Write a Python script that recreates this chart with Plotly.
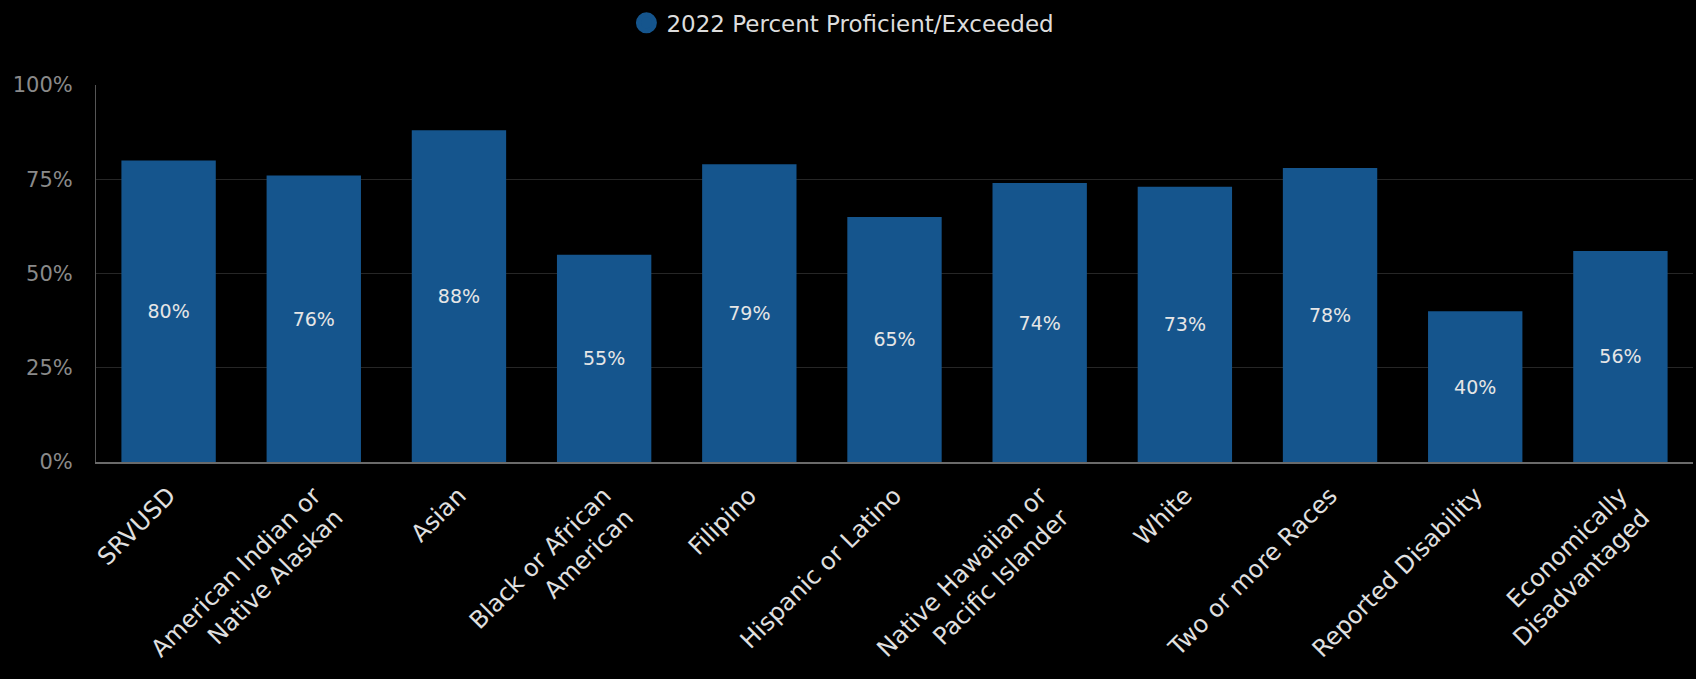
import plotly.graph_objects as go

categories = [
    "SRVUSD",
    "American Indian or<br>Native Alaskan",
    "Asian",
    "Black or African<br>American",
    "Filipino",
    "Hispanic or Latino",
    "Native Hawaiian or<br>Pacific Islander",
    "White",
    "Two or more Races",
    "Reported Disability",
    "Economically<br>Disadvantaged",
]
values = [80, 76, 88, 55, 79, 65, 74, 73, 78, 40, 56]
series_name = "2022 Percent Proficient/Exceeded"
y_ticks = [0, 25, 50, 75, 100]
y_tick_labels = ["0%", "25%", "50%", "75%", "100%"]

BAR_COLOR = "#15558D"
FONT = "DejaVu Sans"

fig = go.Figure()
fig.add_trace(go.Bar(
    x=categories,
    y=values,
    marker=dict(color=BAR_COLOR, line=dict(width=0)),
    text=[f"{v}%" for v in values],
    textposition="inside",
    insidetextanchor="middle",
    textangle=0,
    textfont=dict(color="#e6e6e6", size=19, family=FONT),
    showlegend=False,
    hoverinfo="skip",
))
# legend-only entry with circular symbol
fig.add_trace(go.Scatter(
    x=[None], y=[None], mode="markers", name=series_name,
    marker=dict(color=BAR_COLOR, size=26, symbol="circle",
                line=dict(color=BAR_COLOR, width=6)),
    showlegend=True,
))

fig.update_layout(
    width=1696, height=679,
    paper_bgcolor="#000000", plot_bgcolor="#000000",
    margin=dict(l=96, r=3, t=85, b=217),
    bargap=0.35,
    font=dict(family=FONT, color="#dddddd"),
    legend=dict(
        orientation="h", xref="container", x=0.497, xanchor="center",
        yref="container", y=0.998, yanchor="top",
        font=dict(size=23, color="#dddddd", family=FONT),
        itemsizing="trace",
    ),
)
fig.update_xaxes(
    tickangle=-45,
    tickfont=dict(size=24, color="#e0e0e0", family=FONT),
    showline=True, linecolor="#6a6a6a", linewidth=2,
    showgrid=False, ticks="", automargin=False, ticklabelstandoff=8,
)
fig.update_yaxes(
    range=[0, 100],
    tickvals=y_ticks, ticktext=y_tick_labels,
    tickfont=dict(size=21, color="#8a8a8a", family=FONT),
    showline=True, linecolor="#555555", linewidth=1,
    showgrid=True, gridcolor="#262626", gridwidth=1,
    zeroline=False, ticks="", ticklabelstandoff=18, automargin=False,
)

fig.write_html(
    "out.html",
    config={"displayModeBar": False},
    post_script="document.body.style.margin='0';document.body.style.background='#000';",
)
